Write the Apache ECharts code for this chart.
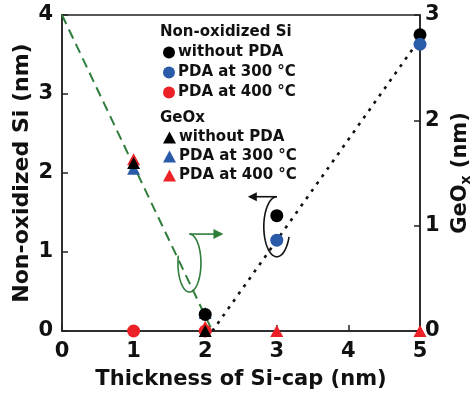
<!DOCTYPE html>
<html>
<head>
<meta charset="utf-8">
<script src="https://cdn.jsdelivr.net/npm/echarts@6/dist/echarts.min.js"></script>
<style>html,body{margin:0;padding:0;background:#fff}#c{width:475px;height:396px}</style>
</head>
<body>
<div id="c"></div>
<script>
// ---- data ----
const xTicks = [0, 1, 2, 3, 4, 5];
const leftTicks = [0, 1, 2, 3, 4];
const rightTicks = [0, 1, 2, 3];
// Non-oxidized Si (left axis, nm)
const siWithout = [[2, 0.21], [3, 1.46], [5, 3.75]];
const si300 = [[3, 1.15], [5, 3.63]];
const si400 = [[1, 0], [2, 0]];
// GeOx (right axis, nm)
const geoWithout = [[1, 1.595], [2, 0]];
const geo300 = [[1, 1.54], [2, 0.17]];
const geo400 = [[1, 1.63], [2, 0.04], [3, 0], [5, 0]];
// guide lines (left axis units)
const geoTrend = [[0, 4], [2.1, 0]];
const siTrend = [[2.1, 0], [5, 3.7]];

const FONT = '"DejaVu Sans", sans-serif';
const BLACK = '#000000', BLUE = '#2a5ba8', RED = '#ec2127', GREEN = '#2f7d3b';

const chart = echarts.init(document.getElementById('c'), null, {renderer: 'canvas'});
const stripName = n => n.replace(/^(Si|GeOx) /, '');

const option = {
  animation: false,
  backgroundColor: '#fff',
  grid: {left: 62, right: 55, top: 15, bottom: 65, outerBoundsMode: 'none', containLabel: false,
    show: true, borderColor: '#222', borderWidth: 1.5, backgroundColor: 'transparent'},
  xAxis: {
    type: 'value', min: 0, max: 5, interval: 1,
    name: 'Thickness of Si-cap (nm)', nameLocation: 'middle', nameGap: 38,
    nameTextStyle: {fontFamily: FONT, fontWeight: 'bold', fontSize: 21, color: '#111'},
    axisLine: {lineStyle: {color: '#222', width: 1.5}},
    axisTick: {inside: true, length: 6, lineStyle: {color: '#222', width: 1.5}},
    axisLabel: {margin: 10, fontFamily: FONT, fontWeight: 'bold', fontSize: 21, color: '#111',
      formatter: v => xTicks.includes(v) ? String(v) : ''},
    splitLine: {show: false}
  },
  yAxis: [{
    type: 'value', min: 0, max: 4, interval: 1, position: 'left',
    name: 'Non-oxidized Si (nm)', nameLocation: 'middle', nameGap: 29, nameRotate: 90, nameMoveOverlap: false,
    nameTextStyle: {fontFamily: FONT, fontWeight: 'bold', fontSize: 22, color: '#111'},
    axisLine: {show: true, lineStyle: {color: '#222', width: 1.5}},
    axisTick: {show: true, inside: true, length: 6, lineStyle: {color: '#222', width: 1.5}},
    axisLabel: {margin: 9, fontFamily: FONT, fontWeight: 'bold', fontSize: 21, color: '#111',
      formatter: v => leftTicks.includes(v) ? String(v) : ''},
    splitLine: {show: false}
  }, {
    type: 'value', min: 0, max: 3, interval: 1, position: 'right',
    name: 'GeO{s|x} (nm)', nameLocation: 'middle', nameGap: 27, nameRotate: 90,
    nameTextStyle: {fontFamily: FONT, fontWeight: 'bold', fontSize: 21, color: '#111',
      rich: {s: {fontFamily: FONT, fontWeight: 'bold', fontSize: 14, color: '#111', verticalAlign: 'bottom', padding: [10, 0, 0, 0]}}},
    axisLine: {show: true, lineStyle: {color: '#222', width: 1.5}},
    axisTick: {show: true, inside: true, length: 6, lineStyle: {color: '#222', width: 1.5}},
    axisLabel: {margin: 5, fontFamily: FONT, fontWeight: 'bold', fontSize: 21, color: '#111',
      formatter: v => rightTicks.includes(v) ? String(v) : ''},
    splitLine: {show: false}
  }],
  legend: [{
    orient: 'vertical', left: 158, top: 40, itemGap: 5, itemWidth: 12, itemHeight: 12,
    icon: 'circle', formatter: stripName,
    textStyle: {fontFamily: FONT, fontWeight: 'bold', fontSize: 15, color: '#111', padding: [0, 0, 0, -2]},
    data: ['Si without PDA', 'Si PDA at 300 °C', 'Si PDA at 400 °C']
  }, {
    orient: 'vertical', left: 158, top: 125, itemGap: 4, itemWidth: 13, itemHeight: 12,
    icon: 'triangle', formatter: stripName,
    textStyle: {fontFamily: FONT, fontWeight: 'bold', fontSize: 15, color: '#111', padding: [0, 0, 0, -2]},
    data: ['GeOx without PDA', 'GeOx PDA at 300 °C', 'GeOx PDA at 400 °C']
  }],
  series: [
    {type: 'line', yAxisIndex: 0, data: geoTrend, symbol: 'none', silent: true, z: 1,
      lineStyle: {color: GREEN, width: 2, type: [10, 6]}},
    {type: 'line', yAxisIndex: 0, data: siTrend, symbol: 'none', silent: true, z: 1,
      lineStyle: {color: '#111', width: 2.6, type: [3, 6]}},
    {name: 'GeOx PDA at 300 °C', type: 'scatter', yAxisIndex: 1, data: geo300, symbol: 'triangle', symbolSize: [13, 12], itemStyle: {color: BLUE, opacity: 1}, z: 2},
    {name: 'Si PDA at 400 °C', type: 'scatter', yAxisIndex: 0, data: si400, symbol: 'circle', symbolSize: 13, itemStyle: {color: RED, opacity: 1}, z: 3},
    {name: 'GeOx PDA at 400 °C', type: 'scatter', yAxisIndex: 1, data: geo400, symbol: 'triangle', symbolSize: [13, 12], itemStyle: {color: RED, opacity: 1}, z: 4},
    {name: 'GeOx without PDA', type: 'scatter', yAxisIndex: 1, data: geoWithout, symbol: 'triangle', symbolSize: [13, 12], itemStyle: {color: BLACK, opacity: 1}, z: 5},
    {name: 'Si without PDA', type: 'scatter', yAxisIndex: 0, data: siWithout, symbol: 'circle', symbolSize: 13, itemStyle: {color: BLACK, opacity: 1}, z: 6},
    {name: 'Si PDA at 300 °C', type: 'scatter', yAxisIndex: 0, data: si300, symbol: 'circle', symbolSize: 13, itemStyle: {color: BLUE, opacity: 1}, z: 7}
  ]
};
chart.setOption(option);

// ---- annotations (ellipse + arrow pointing to the relevant axis) ----
function ellipsePts(cx, cy, rx, ry, a0, a1, n) {
  const pts = [];
  for (let i = 0; i <= n; i++) {
    const a = (a0 + (a1 - a0) * i / n) * Math.PI / 180;
    pts.push([cx + rx * Math.cos(a), cy + ry * Math.sin(a)]);
  }
  return pts;
}
const g1 = chart.convertToPixel({gridIndex: 0}, [1.78, 0.86]); // green loop center
const g2 = chart.convertToPixel({gridIndex: 0}, [3.0, 1.32]); // black loop center
const graphics = [
  {type: 'text', left: 160, top: 25, style: {text: 'Non-oxidized Si', fontFamily: FONT, fontWeight: 'bold', fontSize: 15, fill: '#111'}},
  {type: 'text', left: 160, top: 111, style: {text: 'GeOx', fontFamily: FONT, fontWeight: 'bold', fontSize: 15, fill: '#111'}},
  {type: 'polyline', shape: {points: ellipsePts(g1[0], g1[1], 11.5, 29, -90, 195, 60)}, style: {stroke: GREEN, lineWidth: 1.6, fill: null}},
  {type: 'line', shape: {x1: g1[0], y1: g1[1] - 29, x2: g1[0] + 26, y2: g1[1] - 29}, style: {stroke: GREEN, lineWidth: 1.6}},
  {type: 'polygon', shape: {points: [[g1[0] + 34, g1[1] - 29], [g1[0] + 24, g1[1] - 34], [g1[0] + 24, g1[1] - 24]]}, style: {fill: GREEN}},
  {type: 'polyline', shape: {points: ellipsePts(g2[0], g2[1], 13, 30, -90, -340, 60)}, style: {stroke: '#111', lineWidth: 1.6, fill: null}},
  {type: 'line', shape: {x1: g2[0], y1: g2[1] - 30, x2: g2[0] - 22, y2: g2[1] - 30}, style: {stroke: '#111', lineWidth: 1.6}},
  {type: 'polygon', shape: {points: [[g2[0] - 29, g2[1] - 30], [g2[0] - 20, g2[1] - 34.5], [g2[0] - 20, g2[1] - 25.5]]}, style: {fill: '#111'}}
];
chart.setOption({graphic: graphics});
</script>
</body>
</html>
